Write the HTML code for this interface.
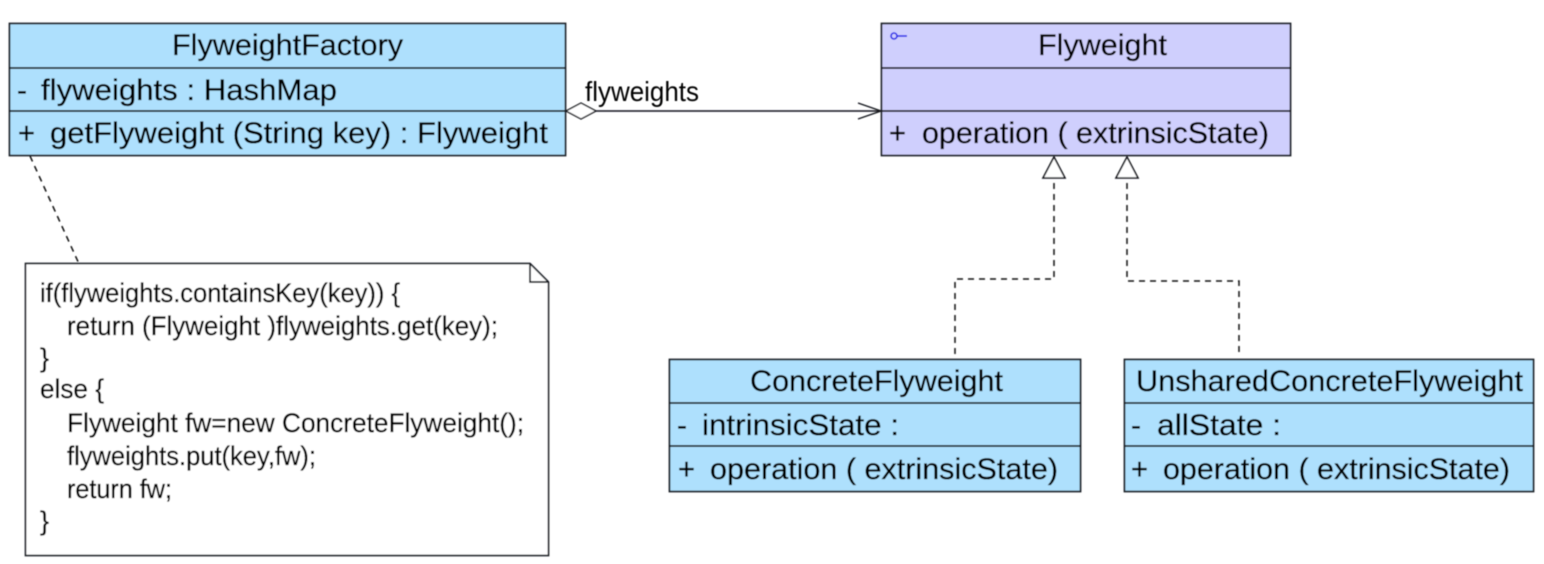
<!DOCTYPE html>
<html>
<head>
<meta charset="utf-8">
<style>
html,body{margin:0;padding:0;background:#fff;width:1544px;height:564px;overflow:hidden}
svg{display:block}
text{font-family:"Liberation Sans",sans-serif;fill:#000;stroke:#000;stroke-width:.3}
.t{font-size:30px}
.n{font-size:27px}
.b{stroke:#22262c;stroke-width:1.8;fill:#aee0fd}
.p{stroke:#22262c;stroke-width:1.8;fill:#cfcffd}
.l{stroke:#14181e;stroke-width:1.7;fill:none}
.a{stroke:#14181e;stroke-width:1.4;fill:none}
.d{stroke:#111;stroke-width:1.5;fill:none;stroke-dasharray:6 5}
</style>
</head>
<body>
<svg width="1544" height="564" viewBox="0 0 1544 564" xmlns="http://www.w3.org/2000/svg">
<defs><filter id="s" x="-5%" y="-5%" width="110%" height="110%"><feGaussianBlur stdDeviation="0.4"/></filter></defs>
<g filter="url(#s)">
<!-- FlyweightFactory -->
<rect class="b" x="9.5" y="23.5" width="556" height="132"/>
<path class="l" d="M9.5 68H565.5M9.5 111H565.5"/>
<text class="t" x="172" y="55" textLength="231" lengthAdjust="spacingAndGlyphs">FlyweightFactory</text>
<text class="t" x="17" y="100">-</text>
<text class="t" x="41" y="100" textLength="296" lengthAdjust="spacingAndGlyphs">flyweights  : HashMap</text>
<text class="t" x="18" y="143" textLength="17" lengthAdjust="spacingAndGlyphs">+</text>
<text class="t" x="50" y="143" textLength="498" lengthAdjust="spacingAndGlyphs">getFlyweight (String key)  : Flyweight</text>

<!-- Flyweight -->
<rect class="p" x="881.5" y="23.5" width="409" height="132"/>
<path class="l" d="M881.5 68H1290.5M881.5 111H1290.5"/>
<circle cx="894" cy="36" r="3" fill="none" stroke="#2020e8" stroke-width="1.6"/>
<path d="M897 36H907" stroke="#2020e8" stroke-width="1.6"/>
<text class="t" x="1038" y="55" textLength="129" lengthAdjust="spacingAndGlyphs">Flyweight</text>
<text class="t" x="889" y="143" textLength="17" lengthAdjust="spacingAndGlyphs">+</text>
<text class="t" x="922" y="143" textLength="347" lengthAdjust="spacingAndGlyphs">operation ( extrinsicState)</text>

<!-- ConcreteFlyweight -->
<rect class="b" x="669.5" y="359.5" width="411" height="132"/>
<path class="l" d="M669.5 403H1080.5M669.5 446H1080.5"/>
<text class="t" x="750" y="391" textLength="253" lengthAdjust="spacingAndGlyphs">ConcreteFlyweight</text>
<text class="t" x="677" y="435">-</text>
<text class="t" x="702" y="435" textLength="197" lengthAdjust="spacingAndGlyphs">intrinsicState  :</text>
<text class="t" x="678" y="479" textLength="17" lengthAdjust="spacingAndGlyphs">+</text>
<text class="t" x="710" y="479" textLength="348" lengthAdjust="spacingAndGlyphs">operation ( extrinsicState)</text>

<!-- UnsharedConcreteFlyweight -->
<rect class="b" x="1124.5" y="359.5" width="409" height="132"/>
<path class="l" d="M1124.5 403H1533.5M1124.5 446H1533.5"/>
<text class="t" x="1136" y="391" textLength="387" lengthAdjust="spacingAndGlyphs">UnsharedConcreteFlyweight</text>
<text class="t" x="1131" y="435">-</text>
<text class="t" x="1157" y="435" textLength="124" lengthAdjust="spacingAndGlyphs">allState  :</text>
<text class="t" x="1131" y="479" textLength="17" lengthAdjust="spacingAndGlyphs">+</text>
<text class="t" x="1163" y="479" textLength="347" lengthAdjust="spacingAndGlyphs">operation ( extrinsicState)</text>

<!-- Association -->
<path class="a" d="M596 111H880"/>
<path d="M566 111L581 103L596 111L581 119Z" fill="#fff" stroke="#14181e" stroke-width="1.4"/>
<path class="a" d="M858 103L881 111L858 119"/>
<text x="585" y="101" font-size="28" style="stroke-width:0" textLength="114" lengthAdjust="spacingAndGlyphs">flyweights</text>

<!-- Realizations -->
<path d="M1054 157L1043 178H1065Z" fill="#fff" stroke="#14181e" stroke-width="1.6"/>
<path d="M1127 157L1116 178H1138Z" fill="#fff" stroke="#14181e" stroke-width="1.6"/>
<path class="d" d="M1054 183V279H955V358"/>
<path class="d" d="M1127 183V281H1239V356"/>

<!-- Note link -->
<path class="d" d="M30 156L80 266" stroke-dasharray="4 6"/>

<!-- Note -->
<path d="M25.5 263.5H530L548.5 282V555.5H25.5Z" fill="#fff" stroke="#22262c" stroke-width="1.7"/>
<path class="l" d="M530 263.5V282H548.5"/>
<text class="n" x="40" y="302" textLength="360" lengthAdjust="spacingAndGlyphs">if(flyweights.containsKey(key)) {</text>
<text class="n" x="67" y="335" textLength="431" lengthAdjust="spacingAndGlyphs">return (Flyweight )flyweights.get(key);</text>
<text class="n" x="40" y="367">}</text>
<text class="n" x="40" y="398" textLength="64" lengthAdjust="spacingAndGlyphs">else {</text>
<text class="n" x="67" y="432" textLength="457" lengthAdjust="spacingAndGlyphs">Flyweight fw=new ConcreteFlyweight();</text>
<text class="n" x="67" y="465" textLength="249" lengthAdjust="spacingAndGlyphs">flyweights.put(key,fw);</text>
<text class="n" x="67" y="498" textLength="105" lengthAdjust="spacingAndGlyphs">return fw;</text>
<text class="n" x="40" y="530">}</text>
</g>
</svg>
</body>
</html>
